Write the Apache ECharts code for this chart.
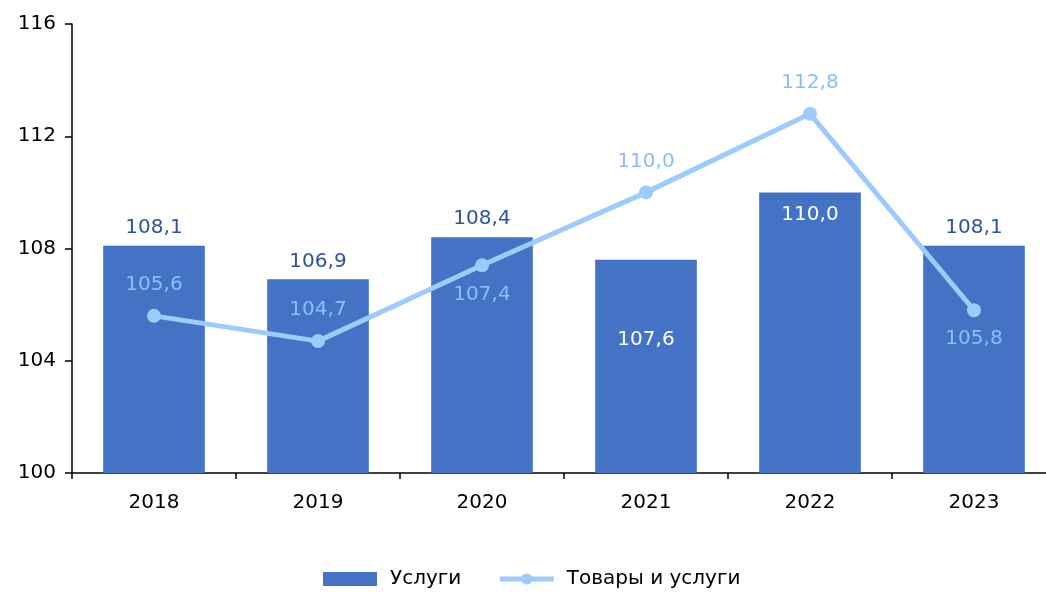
<!DOCTYPE html>
<html><head><meta charset="utf-8">
<script src="https://cdn.jsdelivr.net/npm/echarts@6/dist/echarts.min.js"></script>
<style>html,body{margin:0;padding:0;background:#fff;overflow:hidden;width:1046px;height:596px}#c{width:1056px;height:596px}</style>
</head><body><div id="c"></div>
<script>
const categories = ['2018','2019','2020','2021','2022','2023'];
const services = [108.1, 106.9, 108.4, 107.6, 110.0, 108.1];
const goodsServices = [105.6, 104.7, 107.4, 110.0, 112.8, 105.8];
const yTicks = [100, 104, 108, 112, 116];

const FONT = '"DejaVu Sans", Verdana, sans-serif';
const fmt = v => v.toFixed(1).replace('.', ',');
const insideBarDist = {3: 70, 4: 12};
const belowLine = new Set([2, 5]);

const chart = echarts.init(document.getElementById('c'), null, {renderer: 'canvas'});
chart.setOption({
  animation: false,
  grid: {left: 72, top: 24, right: 0, bottom: 123},
  legend: {
    bottom: 2, left: 318, itemGap: 36, itemWidth: 54, itemHeight: 14,
    textStyle: {fontFamily: FONT, fontSize: 20, color: '#000', padding: [0, 0, 0, 8]},
    data: [
      {name: 'Услуги', icon: 'rect'},
      {name: 'Товары и услуги', lineStyle: {width: 5}}
    ]
  },
  xAxis: {
    type: 'category', data: categories,
    axisLine: {lineStyle: {color: '#000', width: 1.5}},
    axisTick: {show: true, inside: false, length: 6, lineStyle: {color: '#000', width: 1.5}},
    axisLabel: {fontFamily: FONT, fontSize: 20, color: '#000', margin: 20}
  },
  yAxis: {
    type: 'value', min: 100, max: 116, interval: 4,
    splitLine: {show: false},
    axisLine: {show: true, lineStyle: {color: '#000', width: 1.5}},
    axisTick: {show: true, length: 7, lineStyle: {color: '#000', width: 1.5}},
    axisLabel: {fontFamily: FONT, fontSize: 20, color: '#000', margin: 16,
      formatter: v => yTicks.includes(v) ? String(v) : ''}
  },
  series: [
    {
      name: 'Услуги', type: 'bar', barWidth: '62%',
      itemStyle: {color: '#4472C4'},
      data: services.map((v, i) => ({
        value: v,
        label: (i in insideBarDist)
          ? {show: true, position: 'insideTop', distance: insideBarDist[i], color: '#fff'}
          : {show: true, position: 'top', distance: 8, color: '#2F5597'}
      })),
      label: {fontFamily: FONT, fontSize: 20, formatter: p => fmt(p.value)}
    },
    {
      name: 'Товары и услуги', type: 'line',
      symbol: 'circle', symbolSize: 14,
      lineStyle: {color: '#9DCBFB', width: 5},
      itemStyle: {color: '#9DCBFB'},
      data: goodsServices.map((v, i) => ({
        value: v,
        label: belowLine.has(i)
          ? {show: true, position: 'bottom', distance: 12}
          : {show: true, position: 'top', distance: 14}
      })),
      label: {fontFamily: FONT, fontSize: 20, color: '#88BFFA', formatter: p => fmt(p.value)}
    }
  ]
});
</script></body></html>
